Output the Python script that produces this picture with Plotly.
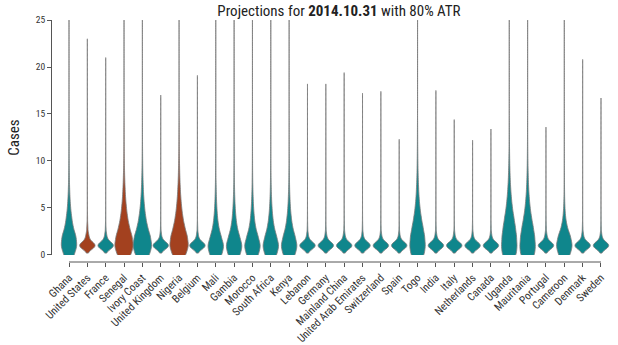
import numpy as np
import plotly.graph_objects as go

# ---------------- data ----------------
countries = ["Ghana", "United States", "France", "Senegal", "Ivory Coast",
             "United Kingdom", "Nigeria", "Belgium", "Mali", "Gambia",
             "Morocco", "South Africa", "Kenya", "Lebanon", "Germany",
             "Mainland China", "United Arab Emirates", "Switzerland", "Spain",
             "Togo", "India", "Italy", "Netherlands", "Canada", "Uganda",
             "Mauritania", "Portugal", "Cameroon", "Denmark", "Sweden"]

highlighted = ["United States", "Senegal", "Nigeria"]

# number of simulated outcomes with 0, 1, 2, ... 14 cases
case_values = list(range(15))

ghana          = [200, 300, 260, 150, 100, 60, 38, 24, 15, 10, 7, 5, 4, 3, 2]
united_states  = [0, 800, 150, 50, 20, 10, 6, 4, 3, 2, 1, 1, 0, 0, 0]
france         = [0, 850, 110, 30, 12, 6, 4, 2, 1, 1, 0, 0, 0, 0, 0]
senegal        = [220, 300, 250, 165, 110, 75, 50, 34, 23, 15, 10, 7, 5, 4, 3]
ivory_coast    = [230, 300, 250, 160, 105, 70, 45, 30, 20, 13, 9, 6, 4, 3, 2]
united_kingdom = [0, 870, 90, 25, 10, 5, 3, 2, 1, 0, 0, 0, 0, 0, 0]
nigeria        = [210, 290, 250, 170, 115, 80, 55, 38, 26, 18, 12, 8, 6, 4, 3]
belgium        = [0, 860, 100, 28, 10, 5, 3, 2, 1, 0, 0, 0, 0, 0, 0]
mali           = [250, 330, 210, 115, 70, 44, 28, 18, 11, 7, 5, 3, 2, 1, 1]
gambia         = [250, 330, 215, 118, 72, 45, 28, 18, 11, 7, 5, 3, 2, 1, 1]
morocco        = [245, 330, 220, 120, 74, 46, 29, 18, 11, 7, 5, 3, 2, 1, 1]
south_africa   = [240, 325, 225, 128, 78, 48, 30, 19, 12, 8, 5, 3, 2, 1, 1]
kenya          = [240, 320, 230, 132, 82, 50, 32, 20, 12, 8, 5, 3, 2, 1, 1]
lebanon        = [0, 870, 95, 25, 10, 5, 3, 2, 1, 0, 0, 0, 0, 0, 0]
germany        = [0, 870, 95, 25, 10, 5, 3, 2, 1, 0, 0, 0, 0, 0, 0]
mainland_china = [0, 860, 100, 28, 11, 5, 3, 2, 1, 0, 0, 0, 0, 0, 0]
uae            = [0, 875, 90, 24, 9, 4, 2, 1, 1, 0, 0, 0, 0, 0, 0]
switzerland    = [0, 875, 90, 24, 9, 4, 2, 1, 1, 0, 0, 0, 0, 0, 0]
spain          = [0, 880, 85, 22, 8, 4, 2, 1, 0, 0, 0, 0, 0, 0, 0]
togo           = [280, 320, 290, 220, 150, 100, 65, 45, 30, 20, 14, 10, 7, 5, 4]
india          = [0, 870, 95, 25, 10, 5, 3, 2, 1, 0, 0, 0, 0, 0, 0]
italy          = [0, 875, 90, 23, 9, 4, 2, 1, 0, 0, 0, 0, 0, 0, 0]
netherlands    = [0, 880, 85, 22, 8, 4, 2, 1, 0, 0, 0, 0, 0, 0, 0]
canada         = [0, 875, 88, 23, 9, 4, 2, 1, 0, 0, 0, 0, 0, 0, 0]
uganda         = [300, 320, 300, 250, 190, 130, 90, 60, 40, 27, 18, 12, 8, 6, 4]
mauritania     = [300, 320, 290, 230, 160, 105, 70, 45, 30, 20, 13, 9, 6, 4, 3]
portugal       = [0, 850, 110, 32, 12, 6, 3, 2, 1, 0, 0, 0, 0, 0, 0]
cameroon       = [230, 320, 240, 110, 50, 25, 14, 9, 6, 4, 3, 2, 1, 1, 1]
denmark        = [0, 860, 100, 28, 11, 5, 3, 2, 1, 1, 0, 0, 0, 0, 0]
sweden         = [0, 870, 95, 25, 10, 5, 3, 2, 1, 0, 0, 0, 0, 0, 0]

frequencies = [ghana, united_states, france, senegal, ivory_coast,
               united_kingdom, nigeria, belgium, mali, gambia, morocco,
               south_africa, kenya, lebanon, germany, mainland_china, uae,
               switzerland, spain, togo, india, italy, netherlands, canada,
               uganda, mauritania, portugal, cameroon, denmark, sweden]

# largest simulated outcome per country (the thin whisker-like tail)
tail_max = [35, 22.2, 20.2, 35, 35, 16.2, 35, 18.3, 35, 35,
            35, 35, 35, 17.4, 17.4, 18.6, 16.4, 16.6, 11.5,
            35, 16.7, 13.6, 11.4, 12.6, 35, 35, 12.8, 35, 20.0, 15.9]

# ---------------- styling ----------------
TEAL = "#0f868c"
RUST = "#a3411f"
OUTLINE = "#7a7a7a"
FONT = "Roboto Condensed, Liberation Sans Narrow, DejaVu Sans Condensed, Arial Narrow, sans-serif"

wide_ones = ["Senegal", "Ivory Coast", "Nigeria"]

fig = go.Figure()
for name, freq, top in zip(countries, frequencies, tail_max):
    samples = np.concatenate([np.repeat(case_values, freq), [top]])
    spread = freq[0] > 0
    fig.add_trace(go.Violin(
        x0=name, y=samples,
        width=1.0 if name in wide_ones else 0.84,
        bandwidth=0.55 if spread else 0.4,
        spanmode="soft", scalemode="width", points=False,
        fillcolor=RUST if name in highlighted else TEAL,
        line=dict(color=OUTLINE, width=0.8),
        hoverinfo="skip", showlegend=False,
    ))

fig.add_shape(type="line", xref="x", yref="paper",
              x0=countries[0], x1=countries[-1], y0=0, y1=0,
              line=dict(color="#555555", width=1))

fig.update_layout(
    template="none",
    width=618, height=345,
    margin=dict(l=52, r=6, t=20, b=83),
    paper_bgcolor="white", plot_bgcolor="white",
    violinmode="overlay", violingap=0,
    font=dict(family=FONT, color="#333333", size=11),
    title=dict(text="Projections for <b>2014.10.31</b> with 80% ATR",
               x=0.5485, xref="container", xanchor="center",
               y=0.968, yref="container", yanchor="middle",
               font=dict(family=FONT, size=15, color="#222222")),
    xaxis=dict(type="category", categoryorder="array", categoryarray=countries,
               range=[-0.927, 29.6], anchor="free", position=0,
               showline=False, showgrid=False, zeroline=False,
               ticks="outside", ticklen=4, tickcolor="#555555", tickwidth=1,
               tickangle=-45, tickfont=dict(size=11, color="#333333")),
    yaxis=dict(domain=[0.029, 1], range=[0, 25], tickvals=[0, 5, 10, 15, 20, 25],
               showline=True, linecolor="#555555", linewidth=1,
               showgrid=False, zeroline=False,
               ticks="outside", ticklen=4, tickcolor="#555555",
               tickfont=dict(size=9.5, color="#333333"),
               title=dict(text="Cases", font=dict(size=15, color="#222222"),
                          standoff=12)),
)

fig.write_html("out.html")
